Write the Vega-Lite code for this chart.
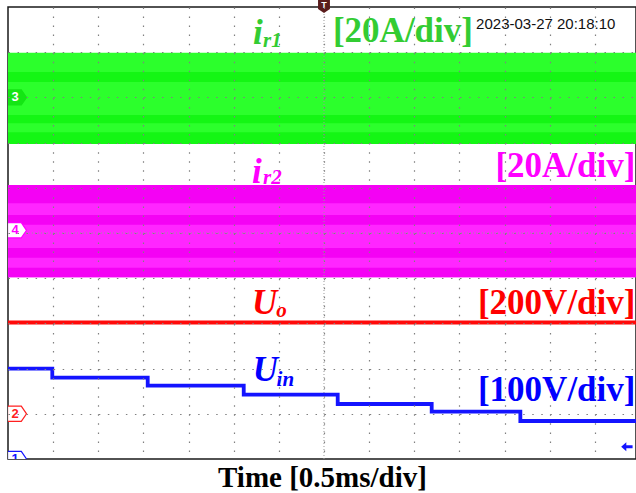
{
  "$schema": "https://vega.github.io/schema/vega-lite/v6.json",
  "width": 628,
  "height": 452,
  "autosize": {"type": "none"},
  "padding": {"left": 8, "top": 7, "right": 0, "bottom": 34},
  "background": "white",
  "config": {"view": {"stroke": "#1a1a1a", "strokeWidth": 1.5}},
  "datasets": {
    "bands": [
      {"t": 0, "t2": 13.912, "v": 1.97, "v2": 3.99, "ch": "g"},
      {"t": 0, "t2": 13.912, "v": 3.34, "v2": 3.56, "ch": "gs"},
      {"t": 0, "t2": 13.912, "v": 2.43, "v2": 2.61, "ch": "gs"},
      {"t": 0, "t2": 13.912, "v": 1.97, "v2": 2.23, "ch": "gs"},
      {"t": 0, "t2": 13.912, "v": -0.98, "v2": 1.06, "ch": "m"},
      {"t": 0, "t2": 13.912, "v": 0.66, "v2": 1.06, "ch": "ms"},
      {"t": 0, "t2": 13.912, "v": 0.18, "v2": 0.4, "ch": "ms"},
      {"t": 0, "t2": 13.912, "v": -0.55, "v2": -0.33, "ch": "ms"},
      {"t": 0, "t2": 13.912, "v": -0.98, "v2": -0.77, "ch": "ms"}
    ],
    "red": [
      {"t": 0, "v": -1.98},
      {"t": 13.912, "v": -1.98}
    ],
    "blue": [
      {"t": 0, "v": -3.002},
      {"t": 0.981, "v": -3.201},
      {"t": 3.095, "v": -3.378},
      {"t": 5.222, "v": -3.577},
      {"t": 7.304, "v": -3.783},
      {"t": 9.386, "v": -3.954},
      {"t": 11.35, "v": -4.159},
      {"t": 13.912, "v": -4.159}
    ],
    "sym": [
      {"t": 5.43, "v": 4.18, "text": "i", "ch": "ir1"},
      {"t": 5.405, "v": 1.106, "text": "i", "ch": "ir2"},
      {"t": 5.405, "v": -1.792, "text": "U", "ch": "Uo"},
      {"t": 5.42, "v": -3.274, "text": "U", "ch": "Uin"}
    ],
    "sub": [
      {"t": 5.65, "v": 4.115, "text": "r1", "ch": "ir1"},
      {"t": 5.65, "v": 1.084, "text": "r2", "ch": "ir2"},
      {"t": 5.94, "v": -1.85, "text": "o", "ch": "Uo"},
      {"t": 5.95, "v": -3.378, "text": "in", "ch": "Uin"}
    ],
    "scales": [
      {"t": 10.3, "v": 4.226, "text": "[20A/div]", "ch": "ir1"},
      {"t": 13.9, "v": 1.239, "text": "[20A/div]", "ch": "ir2"},
      {"t": 13.9, "v": -1.792, "text": "[200V/div]", "ch": "Uo"},
      {"t": 13.9, "v": -3.717, "text": "[100V/div]", "ch": "Uin"}
    ],
    "stamp": [
      {"t": 10.37, "v": 4.513, "text": "2023-03-27 20:18:10"}
    ],
    "tags": [
      {"t": 0.2, "v": 3.0, "ch": "3"},
      {"t": 0.2, "v": 0.06, "ch": "4"},
      {"t": 0.2, "v": -4.0, "ch": "2"},
      {"t": 0.2, "v": -5.0, "ch": "1"}
    ],
    "trig": [
      {"t": 7, "v": 5.02, "text": "T"}
    ],
    "arrow": [
      {"t": 13.71, "v": -4.73}
    ],
    "cx": [{"t": 7, "v": -5, "v2": 5}],
    "cy": [{"t": 0, "t2": 13.912, "v": 0}]
  },
  "encoding": {
    "x": {
      "field": "t", "type": "quantitative",
      "scale": {"domain": [0, 13.912], "nice": false, "zero": false},
      "axis": {
        "values": [1, 2, 3, 4, 5, 6, 7, 8, 9, 10, 11, 12, 13],
        "grid": true, "gridColor": "#808080", "gridDash": [1.5, 7.54], "gridWidth": 1.2, "gridOpacity": 1,
        "labels": false, "ticks": false, "domain": false,
        "title": "Time [0.5ms/div]",
        "titleFont": "Liberation Serif", "titleFontSize": 29, "titleFontWeight": "bold", "titleColor": "#000000",
        "titleBaseline": "alphabetic", "titlePadding": 27,
        "zindex": 1
      }
    },
    "y": {
      "field": "v", "type": "quantitative",
      "scale": {"domain": [-5, 5], "nice": false, "zero": false},
      "axis": {
        "values": [-4, -3, -2, -1, 0, 1, 2, 3, 4],
        "grid": true, "gridColor": "#808080", "gridDash": [1.5, 7.53], "gridWidth": 1.2, "gridOpacity": 1,
        "labels": false, "ticks": false, "domain": false, "title": null,
        "zindex": 1
      }
    }
  },
  "resolve": {"scale": {"color": "independent", "fill": "independent", "stroke": "independent"}},
  "layer": [
    {
      "data": {"name": "bands"},
      "mark": {"type": "rect"},
      "encoding": {
        "x2": {"field": "t2"},
        "y2": {"field": "v2"},
        "color": {
          "field": "ch", "type": "nominal", "legend": null,
          "scale": {"domain": ["g", "gs", "m", "ms"], "range": ["#2cff2c", "#14f614", "#ff26ff", "#f402f4"]}
        }
      }
    },
    {
      "data": {"name": "cx"},
      "mark": {"type": "rule", "color": "#9a9a9a", "strokeDash": [1, 2], "strokeWidth": 1},
      "encoding": {"y2": {"field": "v2"}}
    },
    {
      "data": {"name": "cy"},
      "mark": {"type": "rule", "color": "#9a9a9a", "strokeDash": [1, 2], "strokeWidth": 1},
      "encoding": {"x2": {"field": "t2"}}
    },
    {
      "data": {"name": "red"},
      "mark": {"type": "line", "color": "#ff0a0a", "strokeWidth": 4},
      "encoding": {}
    },
    {
      "data": {"name": "blue"},
      "mark": {"type": "line", "color": "#1414ff", "strokeWidth": 3.8, "interpolate": "step-after"},
      "encoding": {}
    },
    {
      "data": {"name": "tags"},
      "mark": {"type": "point", "shape": "M-1,-0.8L0.45,-0.8L1,0L0.45,0.8L-1,0.8Z", "size": 360, "filled": true, "strokeWidth": 1.2, "opacity": 1, "clip": true},
      "encoding": {
        "fill": {"field": "ch", "type": "nominal", "legend": null,
          "scale": {"domain": ["3", "4", "2", "1"], "range": ["#14e614", "#ffffff", "#ffffff", "#ffffff"]}},
        "stroke": {"field": "ch", "type": "nominal", "legend": null,
          "scale": {"domain": ["3", "4", "2", "1"], "range": ["#14e614", "#ff00ff", "#ff2020", "#1414ff"]}}
      }
    },
    {
      "data": {"name": "tags"},
      "mark": {"type": "text", "font": "Liberation Sans", "fontSize": 13, "fontWeight": "bold", "align": "center", "baseline": "middle", "dx": -2, "clip": true},
      "encoding": {
        "text": {"field": "ch"},
        "color": {"field": "ch", "type": "nominal", "legend": null,
          "scale": {"domain": ["3", "4", "2", "1"], "range": ["#ffffff", "#ff00ff", "#ff2020", "#1414ff"]}}
      }
    },
    {
      "data": {"name": "arrow"},
      "mark": {"type": "point", "shape": "M-1,0L-0.1,-0.8L-0.1,-0.25L1,-0.25L1,0.25L-0.1,0.25L-0.1,0.8Z", "size": 130, "filled": true, "color": "#1414ff", "opacity": 1},
      "encoding": {}
    },
    {
      "data": {"name": "sym"},
      "mark": {"type": "text", "font": "Liberation Serif", "fontSize": 35, "fontWeight": "bold", "fontStyle": "italic", "align": "left", "baseline": "alphabetic"},
      "encoding": {
        "text": {"field": "text"},
        "color": {"field": "ch", "type": "nominal", "legend": null,
          "scale": {"domain": ["ir1", "ir2", "Uo", "Uin"], "range": ["#33cc33", "#ff00ff", "#ff0000", "#0000ff"]}}
      }
    },
    {
      "data": {"name": "sub"},
      "mark": {"type": "text", "font": "Liberation Serif", "fontSize": 21, "fontWeight": "bold", "fontStyle": "italic", "align": "left", "baseline": "alphabetic"},
      "encoding": {
        "text": {"field": "text"},
        "color": {"field": "ch", "type": "nominal", "legend": null,
          "scale": {"domain": ["ir1", "ir2", "Uo", "Uin"], "range": ["#33cc33", "#ff00ff", "#ff0000", "#0000ff"]}}
      }
    },
    {
      "data": {"name": "scales"},
      "mark": {"type": "text", "font": "Liberation Serif", "fontSize": 35, "fontWeight": "bold", "align": "right", "baseline": "alphabetic"},
      "encoding": {
        "text": {"field": "text"},
        "color": {"field": "ch", "type": "nominal", "legend": null,
          "scale": {"domain": ["ir1", "ir2", "Uo", "Uin"], "range": ["#33cc33", "#ff00ff", "#ff0000", "#0000ff"]}}
      }
    },
    {
      "data": {"name": "stamp"},
      "mark": {"type": "text", "font": "Liberation Sans", "fontSize": 15, "color": "#111111", "align": "left", "baseline": "alphabetic"},
      "encoding": {"text": {"field": "text"}}
    },
    {
      "data": {"name": "trig"},
      "mark": {"type": "point", "shape": "M-0.85,-1L0.85,-1L0.85,0.4L0,1L-0.85,0.4Z", "size": 196, "filled": true, "color": "#5a1c1c", "opacity": 1, "clip": false},
      "encoding": {}
    },
    {
      "data": {"name": "trig"},
      "mark": {"type": "text", "font": "Liberation Sans", "fontSize": 9, "fontWeight": "bold", "color": "#ffffff", "align": "center", "baseline": "middle", "dy": -1},
      "encoding": {"text": {"field": "text"}}
    }
  ]
}
